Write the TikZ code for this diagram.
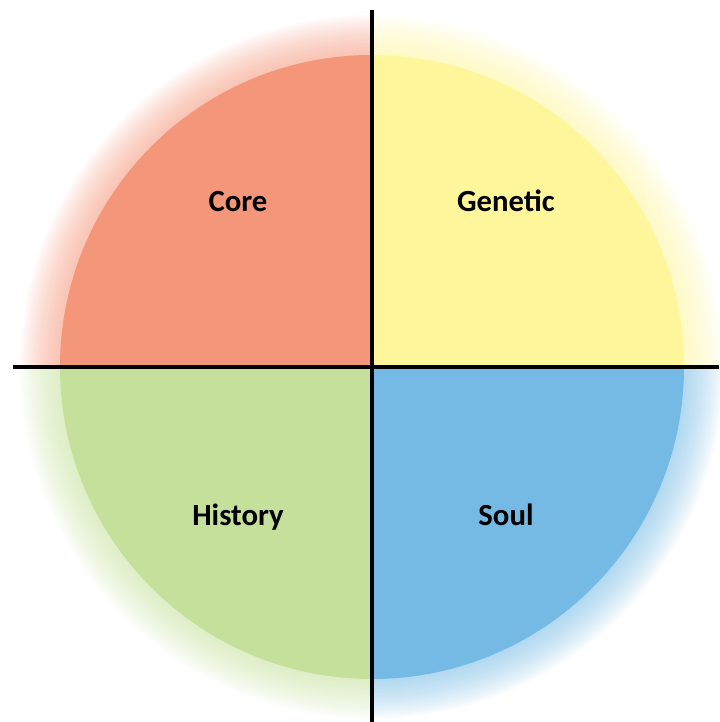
\documentclass[tikz,border=0pt]{standalone}
\usepackage{fontspec}
\setmainfont{Carlito}
\usepackage{xcolor}
\usetikzlibrary{positioning, calc}

\definecolor{coreRed}{RGB}{244,150,122}
\definecolor{geneYellow}{RGB}{255,245,155}
\definecolor{histGreen}{RGB}{197,224,155}
\definecolor{soulBlue}{RGB}{117,186,228}

\begin{document}
\begin{tikzpicture}[x=0.02cm, y=0.02cm]
    % Define styles
    \tikzstyle{label} = [font=\fontsize{17.5}{21}\selectfont\bfseries, text=black, anchor=base]
    \tikzstyle{axis} = [line width=1.9pt, black]
    \tikzstyle{halo} = [opacity=0.04]

    \useasboundingbox (-372,-355) rectangle (347,367);

    % Soft halo round each quarter
    \foreach \c/\a in {coreRed/90, geneYellow/0, histGreen/180, soulBlue/270} {
        \foreach \r in {1,...,20} {
            \fill[halo, \c] (0,0) -- (\a:312+2*\r) arc (\a:\a+90:312+2*\r) -- cycle;
        }
    }

    % Quarters
    \fill[coreRed] (0,0) -- (90:312) arc (90:180:312) -- cycle;
    \fill[geneYellow] (0,0) -- (0:312) arc (0:90:312) -- cycle;
    \fill[histGreen] (0,0) -- (180:312) arc (180:270:312) -- cycle;
    \fill[soulBlue] (0,0) -- (270:312) arc (270:360:312) -- cycle;

    % Labels
    \node[label] (core) at (-134,155) {Core};
    \node[label] (genetic) at (134,155) {Genetic};
    \node[label] (history) at (-134,-158) {History};
    \node[label] (soul) at (134,-158) {Soul};

    % Axes
    \coordinate (top) at (0,357);
    \coordinate (bottom) at (0,-355);
    \coordinate (left) at (-359,0);
    \coordinate (right) at (347,0);
    \draw[axis] (top) -- (bottom);
    \draw[axis] (left) -- (right);

\end{tikzpicture}
\end{document}
